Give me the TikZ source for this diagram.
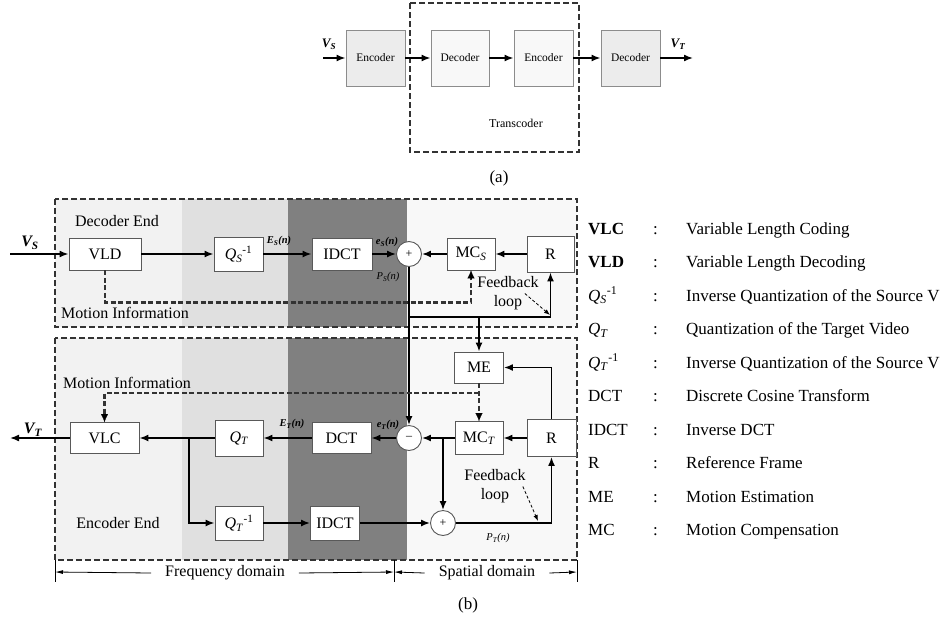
\documentclass[tikz,border=0pt]{standalone}
\usepackage{fontspec}
\setmainfont{Liberation Serif}
\usetikzlibrary{arrows.meta,calc}

\definecolor{shLight}{HTML}{F2F2F2}
\definecolor{shMid}{HTML}{E0E0E0}
\definecolor{shDark}{HTML}{808080}
\definecolor{shPale}{HTML}{F8F8F8}
\definecolor{boxA}{HTML}{ECECEC}
\definecolor{boxB}{HTML}{F8F8F8}

\newcommand\fsbox{\fontsize{16}{19}\selectfont}
\newcommand\fsleg{\fontsize{17}{20}\selectfont}
\newcommand\fsa{\fontsize{11.5}{13}\selectfont}
\newcommand\fslbl{\fontsize{10.5}{12}\selectfont\bfseries\itshape}
\newcommand\symQS{\textit{Q}\textsubscript{\textit{S}}}
\newcommand\symQT{\textit{Q}\textsubscript{\textit{T}}}

\begin{document}
\begin{tikzpicture}[x=1pt,y=-1pt,
  conn/.style={line width=1.6pt,-{Latex[length=9pt,width=7pt]}},
  blk/.style={draw=black!65,line width=0.9pt,fill=white,inner sep=0pt,font=\fsbox},
  ablk/.style={draw=black!45,line width=0.9pt,inner sep=0pt,minimum height=56pt,font=\fsa},
  sumc/.style={circle,draw=black!65,line width=0.9pt,fill=white,minimum size=25pt,inner sep=0pt,font=\fontsize{12}{12}\selectfont},
  region/.style={draw=black!80,line width=1.1pt,dash pattern=on 6pt off 3pt},
  motion/.style={draw=black!80,line width=2.4pt,dash pattern=on 5pt off 2.5pt,shorten >=8pt},
  mtip/.style={line width=0.1pt,-{Latex[length=8pt,width=7pt]}},
  fbarrow/.style={line width=0.8pt,dash pattern=on 3pt off 2pt,-{Latex[length=6pt,width=4.5pt]}},
  dim/.style={line width=0.8pt,-{Latex[length=8pt,width=4pt]}},
  tick/.style={line width=0.8pt},
  lbl/.style={inner sep=0pt,font=\fslbl},
  plbl/.style={inner sep=0pt,font=\fontsize{10.5}{12}\selectfont\itshape},
  txt/.style={inner sep=0pt,font=\fsbox},
  leg/.style={inner sep=0pt,font=\fsleg,anchor=base west}
]
\useasboundingbox (0,0) rectangle (944,624);

%% ---------- (a) cascaded transcoder ----------
\draw[region] (410,3) rectangle (579,152);
\node[ablk,fill=boxA,minimum width=59pt] (aenc1) at (375.5,58) {Encoder};
\node[ablk,fill=boxB,minimum width=58pt] (adec2) at (460,58) {Decoder};
\node[ablk,fill=boxB,minimum width=59pt] (aenc3) at (543.5,58) {Encoder};
\node[ablk,fill=boxA,minimum width=59pt] (adec4) at (630.5,58) {Decoder};
\coordinate (ain) at (323,58);
\coordinate (aout) at (693,58);
\draw[conn] (ain) -- (aenc1);
\draw[conn] (aenc1) -- (adec2);
\draw[conn] (adec2) -- (aenc3);
\draw[conn] (aenc3) -- (adec4);
\draw[conn] (adec4) -- (aout);
\node[inner sep=0pt,font=\fontsize{13}{14}\selectfont\bfseries\itshape] (avs) at (329,44) {V\textsubscript{S}};
\node[inner sep=0pt,font=\fontsize{13}{14}\selectfont\bfseries\itshape] (avt) at (678,44) {V\textsubscript{T}};
\node[inner sep=0pt,font=\fontsize{12}{13}\selectfont] (atrans) at (516,123) {Transcoder};
\node[inner sep=0pt,font=\fsleg] (acap) at (499,178) {(a)};

%% ---------- (b) shaded domains ----------
\foreach \ya/\yb in {199/327,338/560} {
  \fill[shLight] (55,\ya) rectangle (182,\yb);
  \fill[shMid] (182,\ya) rectangle (288,\yb);
  \fill[shDark] (288,\ya) rectangle (407,\yb);
  \fill[shPale] (407,\ya) rectangle (577,\yb);
}
\draw[region] (55,199) rectangle (577,327);
\draw[region] (55,338) rectangle (577,560);

%% decoder end
\node[txt] (decend) at (117,221) {Decoder End};
\node[txt] (minfo1) at (125,313) {Motion Information};
\node[blk,minimum width=72pt,minimum height=32pt] (vld) at (105,254) {VLD};
\node[blk,minimum width=49pt,minimum height=34pt] (qs) at (238.5,254) {\symQS\textsuperscript{-1}};
\node[blk,minimum width=60pt,minimum height=32pt] (idcta) at (342,254) {IDCT};
\node[sumc] (plusa) at (409,254) {+};
\node[blk,minimum width=48pt,minimum height=32pt] (mcs) at (471,254) {MC\textsubscript{\textit{S}}};
\node[blk,minimum width=47pt,minimum height=36pt] (ra) at (550.5,254) {R};

\coordinate (vsin) at (10,254);
\draw[conn] (vsin) -- (vld);
\node[inner sep=0pt,font=\fontsize{16}{17}\selectfont\bfseries\itshape] (vslbl) at (30,243) {V\textsubscript{S}};
\draw[conn] (vld) -- (qs);
\draw[conn] (qs) -- (idcta);
\draw[conn] (idcta) -- (plusa);
\draw[conn] (ra) -- (mcs);
\draw[conn] (mcs) -- (plusa);
\node[lbl] (esbig) at (279,241) {E\textsubscript{S}(n)};
\node[lbl] (essmall) at (387,242) {e\textsubscript{S}(n)};
\node[plbl] (pslbl) at (388,277) {P\textsubscript{S}(n)};

% motion vectors passed from VLD to MC_S
\draw[motion] (vld.south) -- ++(0,32) -| (mcs.south);
\draw[mtip] ($(mcs.south)+(0,8)$) -- (mcs.south);

% decoder feedback loop
\coordinate (tapa) at (409,317);
\coordinate (tapb) at (479,317);
\draw[conn] (tapa) -| (ra.south);
\node[txt,align=center,font=\fontsize{16}{19}\selectfont] (fbtxta) at (508,293.5) {Feedback\\loop};
\coordinate (fbenda) at (550,315);
\draw[fbarrow] ([xshift=-14pt]fbtxta.east) -- (fbenda);

%% encoder end
\node[txt] (minfo2) at (127,383) {Motion Information};
\node[txt] (encend) at (118,523) {Encoder End};
\node[blk,minimum width=49pt,minimum height=31pt] (me) at (479,367.5) {ME};
\node[blk,minimum width=48pt,minimum height=33pt] (mct) at (479,438) {MC\textsubscript{\textit{T}}};
\node[blk,minimum width=49pt,minimum height=37pt] (rb) at (551.5,438) {R};
\node[sumc] (minus) at (409,438) {--};
\node[blk,minimum width=59pt,minimum height=31pt] (dct) at (341.5,438) {DCT};
\node[blk,minimum width=48pt,minimum height=36pt] (qt) at (239,438) {\symQT};
\node[blk,minimum width=69pt,minimum height=31pt] (vlc) at (104.5,438) {VLC};
\node[blk,minimum width=48pt,minimum height=34pt] (qti) at (239,523) {\symQT\textsuperscript{-1}};
\node[blk,minimum width=49pt,minimum height=34pt] (idctb) at (335,523) {IDCT};
\node[sumc] (plusb) at (443,523) {+};

\draw[conn] (plusa) -- (minus);
\draw[conn] (tapb) -- (me);
\draw[conn] (rb.north) |- (me.east);
\draw[conn] (rb) -- (mct);
\draw[conn] (mct) -- (minus);
\draw[conn] (minus) -- (dct);
\draw[conn] (dct) -- (qt);
\draw[conn] (qt) -- (vlc);
\coordinate (vtout) at (10,438);
\draw[conn] (vlc) -- (vtout);
\node[inner sep=0pt,font=\fontsize{16}{17}\selectfont\bfseries\itshape] (vtlbl) at (33,430) {V\textsubscript{T}};
\coordinate (tapc) at (189,438);
\draw[conn] (tapc) |- (qti.west);
\draw[conn] (qti) -- (idctb);
\draw[conn] (idctb) -- (plusb);
\coordinate (tapd) at (443,438);
\draw[conn] (tapd) -- (plusb);
\draw[conn] (plusb.east) -| (rb.south);
\node[lbl] (etbig) at (292,424) {E\textsubscript{T}(n)};
\node[lbl] (etsmall) at (388,425) {e\textsubscript{T}(n)};
\node[plbl] (ptlbl) at (498,538) {P\textsubscript{T}(n)};

% motion vectors from ME to MC_T and VLC
\coordinate (mvb) at (479,393);
\draw[motion] (me.south) -- (mct.north);
\draw[mtip] ($(mct.north)+(0,-8)$) -- (mct.north);
\draw[motion] (mvb) -| (vlc.north);
\draw[mtip] ($(vlc.north)+(0,-8)$) -- (vlc.north);

\node[txt,align=center,font=\fontsize{16}{19}\selectfont] (fbtxtb) at (495,486.5) {Feedback\\loop};
\coordinate (fbendb) at (538,521);
\draw[fbarrow] ([xshift=-3pt]fbtxtb.east) -- (fbendb);

%% domain dimension lines
\draw[tick] (55,560) -- (55,582);
\draw[tick] (394,560) -- (394,582);
\draw[tick] (577,560) -- (577,582);
\coordinate (dl) at (55,572);
\coordinate (dm) at (394,572);
\coordinate (dr) at (577,572);
\node[txt,inner xsep=14pt] (freq) at (225,573) {Frequency domain};
\node[txt,inner xsep=14pt] (spat) at (487,573) {Spatial domain};
\draw[dim] (freq.west) -- (dl);
\draw[dim] (freq.east) -- (dm);
\draw[dim] (spat.west) -- (dm);
\draw[dim] (spat.east) -- (dr);
\node[inner sep=0pt,font=\fsleg] (bcap) at (468,605) {(b)};

%% abbreviations
\foreach \k/\ab/\de in {0/{\textbf{VLC}}/Variable Length Coding,
                        1/{\textbf{VLD}}/Variable Length Decoding,
                        2/{\symQS\textsuperscript{-1}}/Inverse Quantization of the Source V,
                        3/{\symQT}/Quantization of the Target Video,
                        4/{\symQT\textsuperscript{-1}}/Inverse Quantization of the Source V,
                        5/DCT/Discrete Cosine Transform,
                        6/IDCT/Inverse DCT,
                        7/R/Reference Frame,
                        8/ME/Motion Estimation,
                        9/MC/Motion Compensation} {
  \node[leg] (ab\k) at (588,{234+33.5*\k}) {\ab};
  \node[leg] (co\k) at (653,{234+33.5*\k}) {:};
  \node[leg] (de\k) at (686,{234+33.5*\k}) {\de};
}
\end{tikzpicture}
\end{document}
